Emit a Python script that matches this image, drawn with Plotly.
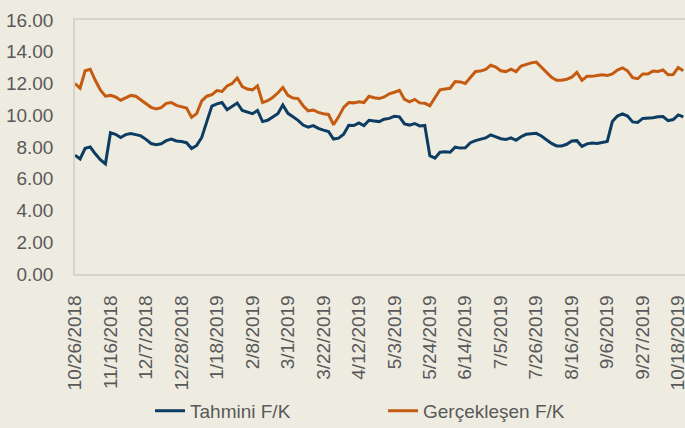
import pandas as pd
import plotly.graph_objs as go

# values, one every 3 days starting 10/26/2018
start_date = "2018-10-26"
tahmini = [
    7.48, 7.25, 7.92, 8.00, 7.57, 7.20, 6.94, 8.90, 8.80, 8.60,
    8.78, 8.85, 8.78, 8.70, 8.48, 8.22, 8.15, 8.20, 8.40, 8.50,
    8.38, 8.35, 8.27, 7.90, 8.10, 8.60, 9.60, 10.58, 10.72, 10.80,
    10.35, 10.58, 10.77, 10.30, 10.22, 10.10, 10.30, 9.60, 9.68, 9.88,
    10.10, 10.65, 10.12, 9.90, 9.68, 9.38, 9.25, 9.35, 9.17, 9.06,
    8.98, 8.50, 8.56, 8.80, 9.37, 9.35, 9.52, 9.35, 9.68, 9.64,
    9.60, 9.75, 9.80, 9.94, 9.90, 9.45, 9.38, 9.48, 9.33, 9.36,
    7.45, 7.30, 7.67, 7.70, 7.67, 7.99, 7.93, 7.95, 8.27, 8.40,
    8.47, 8.57, 8.76, 8.65, 8.52, 8.48, 8.57, 8.42, 8.65, 8.80,
    8.82, 8.86, 8.69, 8.47, 8.23, 8.07, 8.07, 8.17, 8.38, 8.40,
    8.04, 8.20, 8.25, 8.22, 8.29, 8.35, 9.60, 9.95, 10.08, 9.95,
    9.58, 9.55, 9.80, 9.80, 9.84, 9.90, 9.92, 9.66, 9.73, 10.02,
    9.90,
]
gerceklesen = [
    12.00, 11.70, 12.80, 12.90, 12.20, 11.60, 11.20, 11.25, 11.15, 10.95,
    11.10, 11.25, 11.20, 10.95, 10.73, 10.50, 10.40, 10.48, 10.75, 10.80,
    10.62, 10.55, 10.45, 9.87, 10.10, 10.90, 11.20, 11.30, 11.55, 11.50,
    11.85, 12.00, 12.35, 11.80, 11.65, 11.60, 11.85, 10.80, 10.92, 11.12,
    11.40, 11.75, 11.25, 11.08, 11.05, 10.60, 10.28, 10.33, 10.18, 10.10,
    10.05, 9.40, 9.90, 10.50, 10.80, 10.78, 10.85, 10.80, 11.20, 11.10,
    11.05, 11.15, 11.35, 11.45, 11.57, 11.00, 10.85, 11.00, 10.78, 10.75,
    10.60, 11.10, 11.60, 11.65, 11.70, 12.12, 12.10, 12.00, 12.35, 12.76,
    12.78, 12.88, 13.15, 13.03, 12.80, 12.75, 12.90, 12.75, 13.10, 13.22,
    13.30, 13.35, 13.05, 12.75, 12.39, 12.20, 12.20, 12.27, 12.40, 12.70,
    12.20, 12.45, 12.45, 12.50, 12.55, 12.50, 12.60, 12.84, 12.98, 12.80,
    12.37, 12.30, 12.60, 12.60, 12.78, 12.76, 12.85, 12.55, 12.57, 13.00,
    12.80,
]
tick_dates = pd.date_range("2018-10-26", "2019-10-18", freq="21D")
tick_labels = [f"{d.month}/{d.day}/{d.year}" for d in tick_dates]

dates = pd.date_range(start_date, periods=len(tahmini), freq="3D")

navy = "#0C3C61"
orange = "#C55A11"
grey_text = "#595959"
border = "#D6D4CC"
font = "Liberation Sans, Arial, sans-serif"

fig = go.Figure()
fig.add_trace(go.Scatter(x=dates, y=tahmini, name="Tahmini F/K", mode="lines",
                         line=dict(color=navy, width=3)))
fig.add_trace(go.Scatter(x=dates, y=gerceklesen, name="Gerçekleşen F/K", mode="lines",
                         line=dict(color=orange, width=3)))

fig.update_layout(
    width=685, height=428,
    margin=dict(l=75, r=0, t=20, b=154),
    paper_bgcolor="#EEECE1", plot_bgcolor="#EEECE1",
    font=dict(family=font, size=19, color=grey_text),
    showlegend=True,
    legend=dict(orientation="h", xref="container", yref="container",
                x=150 / 685, y=0.04, xanchor="left", yanchor="middle",
                font=dict(size=19, color=grey_text),
                entrywidth=188, entrywidthmode="pixels",
                bgcolor="rgba(0,0,0,0)"),
)
fig.update_xaxes(
    range=["2018-10-26", "2019-10-22"], automargin=False,
    tickvals=tick_dates, ticktext=tick_labels, tickangle=-90,
    ticklabeloverflow="allow",
    showgrid=False, zeroline=False,
    showline=True, linecolor=border, linewidth=1.5, mirror=True,
    ticks="", ticklabelstandoff=12,
)
fig.update_yaxes(
    range=[0, 16], dtick=2, tickformat=".2f", automargin=False,
    showgrid=False, zeroline=False,
    showline=True, linecolor=border, linewidth=1.5, mirror=True,
    ticks="", ticklabelstandoff=16,
)

# drop the page's default body margin so the chart sits at the window corner
fig.write_html("out.html", config={"displayModeBar": False},
               post_script="document.body.style.margin='0';")
